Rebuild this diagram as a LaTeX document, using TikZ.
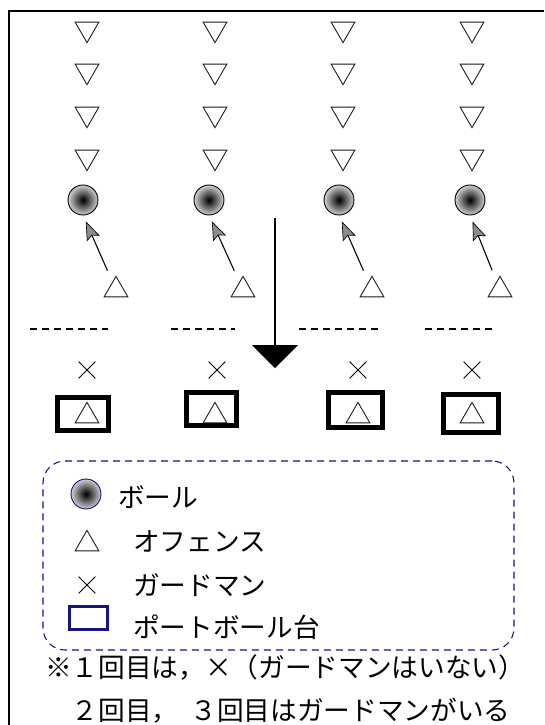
\documentclass[tikz,border=0pt]{standalone}
\usepackage{fontspec}
\newfontfamily\jp{Noto Sans CJK JP}
\usetikzlibrary{shapes.geometric,shapes.misc,arrows.meta}
\definecolor{navyc}{RGB}{20,20,130}
\pgfdeclareradialshading{ballshade}{\pgfpoint{0bp}{0bp}}{color(0bp)=(black);color(3bp)=(black!92);color(25bp)=(black!18);color(50bp)=(black!18)}
\tikzset{
  dtri/.style={regular polygon, regular polygon sides=3, shape border rotate=180, minimum size=20.5pt, inner sep=0pt, outer sep=0pt, draw=black!90, line width=0.65pt},
  utri/.style={regular polygon, regular polygon sides=3, minimum size=20.5pt, inner sep=0pt, outer sep=0pt, draw=black!90, line width=0.65pt},
  ball/.style={circle, minimum size=22.5pt, inner sep=0pt, outer sep=0pt, shading=ballshade, draw, line width=0.7pt},
  guard/.style={cross out, draw, minimum size=12pt, inner sep=0pt, line width=0.6pt},
  goalbox/.style={rectangle, draw, line width=3.8pt, inner sep=0pt},
  pass/.style={-{Stealth[length=14pt,width=10.5pt,inset=2.5pt,fill=black!45,line width=0.5pt]}, line width=0.8pt, shorten <=9.5pt, shorten >=5.25pt},
  lane/.style={dash pattern=on 5.25pt off 3.75pt, line width=1.2pt},
  jptext/.style={font=\jp\fontsize{20pt}{24pt}\selectfont, anchor=west, inner sep=0pt}
}
\begin{document}
\begin{tikzpicture}[x=0.75pt,y=-0.75pt]
\useasboundingbox (0,0) rectangle (544,725);
% frame
\draw[line width=1.5pt] (9,725) -- (9,11) -- (544,11);
% defenders
\foreach \c/\x in {1/87,2/215,3/343,4/472}{
  \foreach \r/\y in {1/29,2/71,3/114,4/157}{
    \node[dtri] (d\c\r) at (\x,\y) {};
  }
}
% balls
\node[ball] (b1) at (83,200) {};
\node[ball] (b2) at (209,200) {};
\node[ball] (b3) at (339,200) {};
\node[ball] (b4) at (470,200) {};
% offense
\node[utri] (o1) at (116,290) {};
\node[utri] (o2) at (243,290) {};
\node[utri] (o3) at (372,290) {};
\node[utri] (o4) at (500,290) {};
% passes
\foreach \c in {1,2,3,4}{
  \draw[pass] (o\c) -- (b\c.south);
}
% big arrow
\coordinate (ab) at (275,218);
\coordinate (ae) at (275,368);
\draw[line width=1.1pt, -{Triangle[length=17.25pt,width=34.5pt]}] (ab) -- (ae);
% lanes
\coordinate (l1a) at (30,329);  \coordinate (l1b) at (108,329);
\coordinate (l2a) at (171,329); \coordinate (l2b) at (235,329);
\coordinate (l3a) at (299,329); \coordinate (l3b) at (379,329);
\coordinate (l4a) at (425,329); \coordinate (l4b) at (492,329);
\foreach \c in {1,2,3,4}{ \draw[lane] (l\c a) -- (l\c b); }
% guards
\node[guard] (x1) at (87,370) {};
\node[guard] (x2) at (217,370) {};
\node[guard] (x3) at (358,370) {};
\node[guard] (x4) at (472,370) {};
% goal boxes
\node[goalbox, minimum width=38.25pt, minimum height=24.75pt] (g1) at (83,414) {};
\node[goalbox, minimum width=37.5pt, minimum height=24.75pt] (g2) at (211.5,409) {};
\node[goalbox, minimum width=40.5pt, minimum height=26.25pt] (g3) at (355.5,410) {};
\node[goalbox, minimum width=41.25pt, minimum height=28.5pt] (g4) at (471,413.5) {};
\node[utri] (t1) at (87,416) {};
\node[utri] (t2) at (215,416) {};
\node[utri] (t3) at (358,416) {};
\node[utri] (t4) at (472,416) {};
% legend
\node[draw=navyc, dash pattern=on 5.25pt off 3.75pt, line width=0.8pt, rounded corners=16.5pt, minimum width=353.25pt, minimum height=141.75pt, inner sep=0pt] (legend) at (278.5,555.5) {};
\node[ball, draw=navyc] (lb) at (86,494) {};
\node[utri] (lo) at (87,544) {};
\node[guard] (lx) at (87,585) {};
\node[rectangle, draw=navyc, line width=2.2pt, minimum width=28.5pt, minimum height=17.25pt, inner sep=0pt] (lg) at (88.5,618) {};
\node[jptext] (tb) at (118,497) {ボール};
\node[jptext] (to) at (133,541) {オフェンス};
\node[jptext] (tx) at (133,585) {ガードマン};
\node[jptext] (tg) at (133,627) {ポートボール台};
% notes
\node[jptext] (n1) at (45,668) {※１回目は，×（ガードマンはいない）};
\node[jptext] (n2) at (45,711) {　２回目，\hspace{9pt}３回目はガードマンがいる};
\end{tikzpicture}
\end{document}
